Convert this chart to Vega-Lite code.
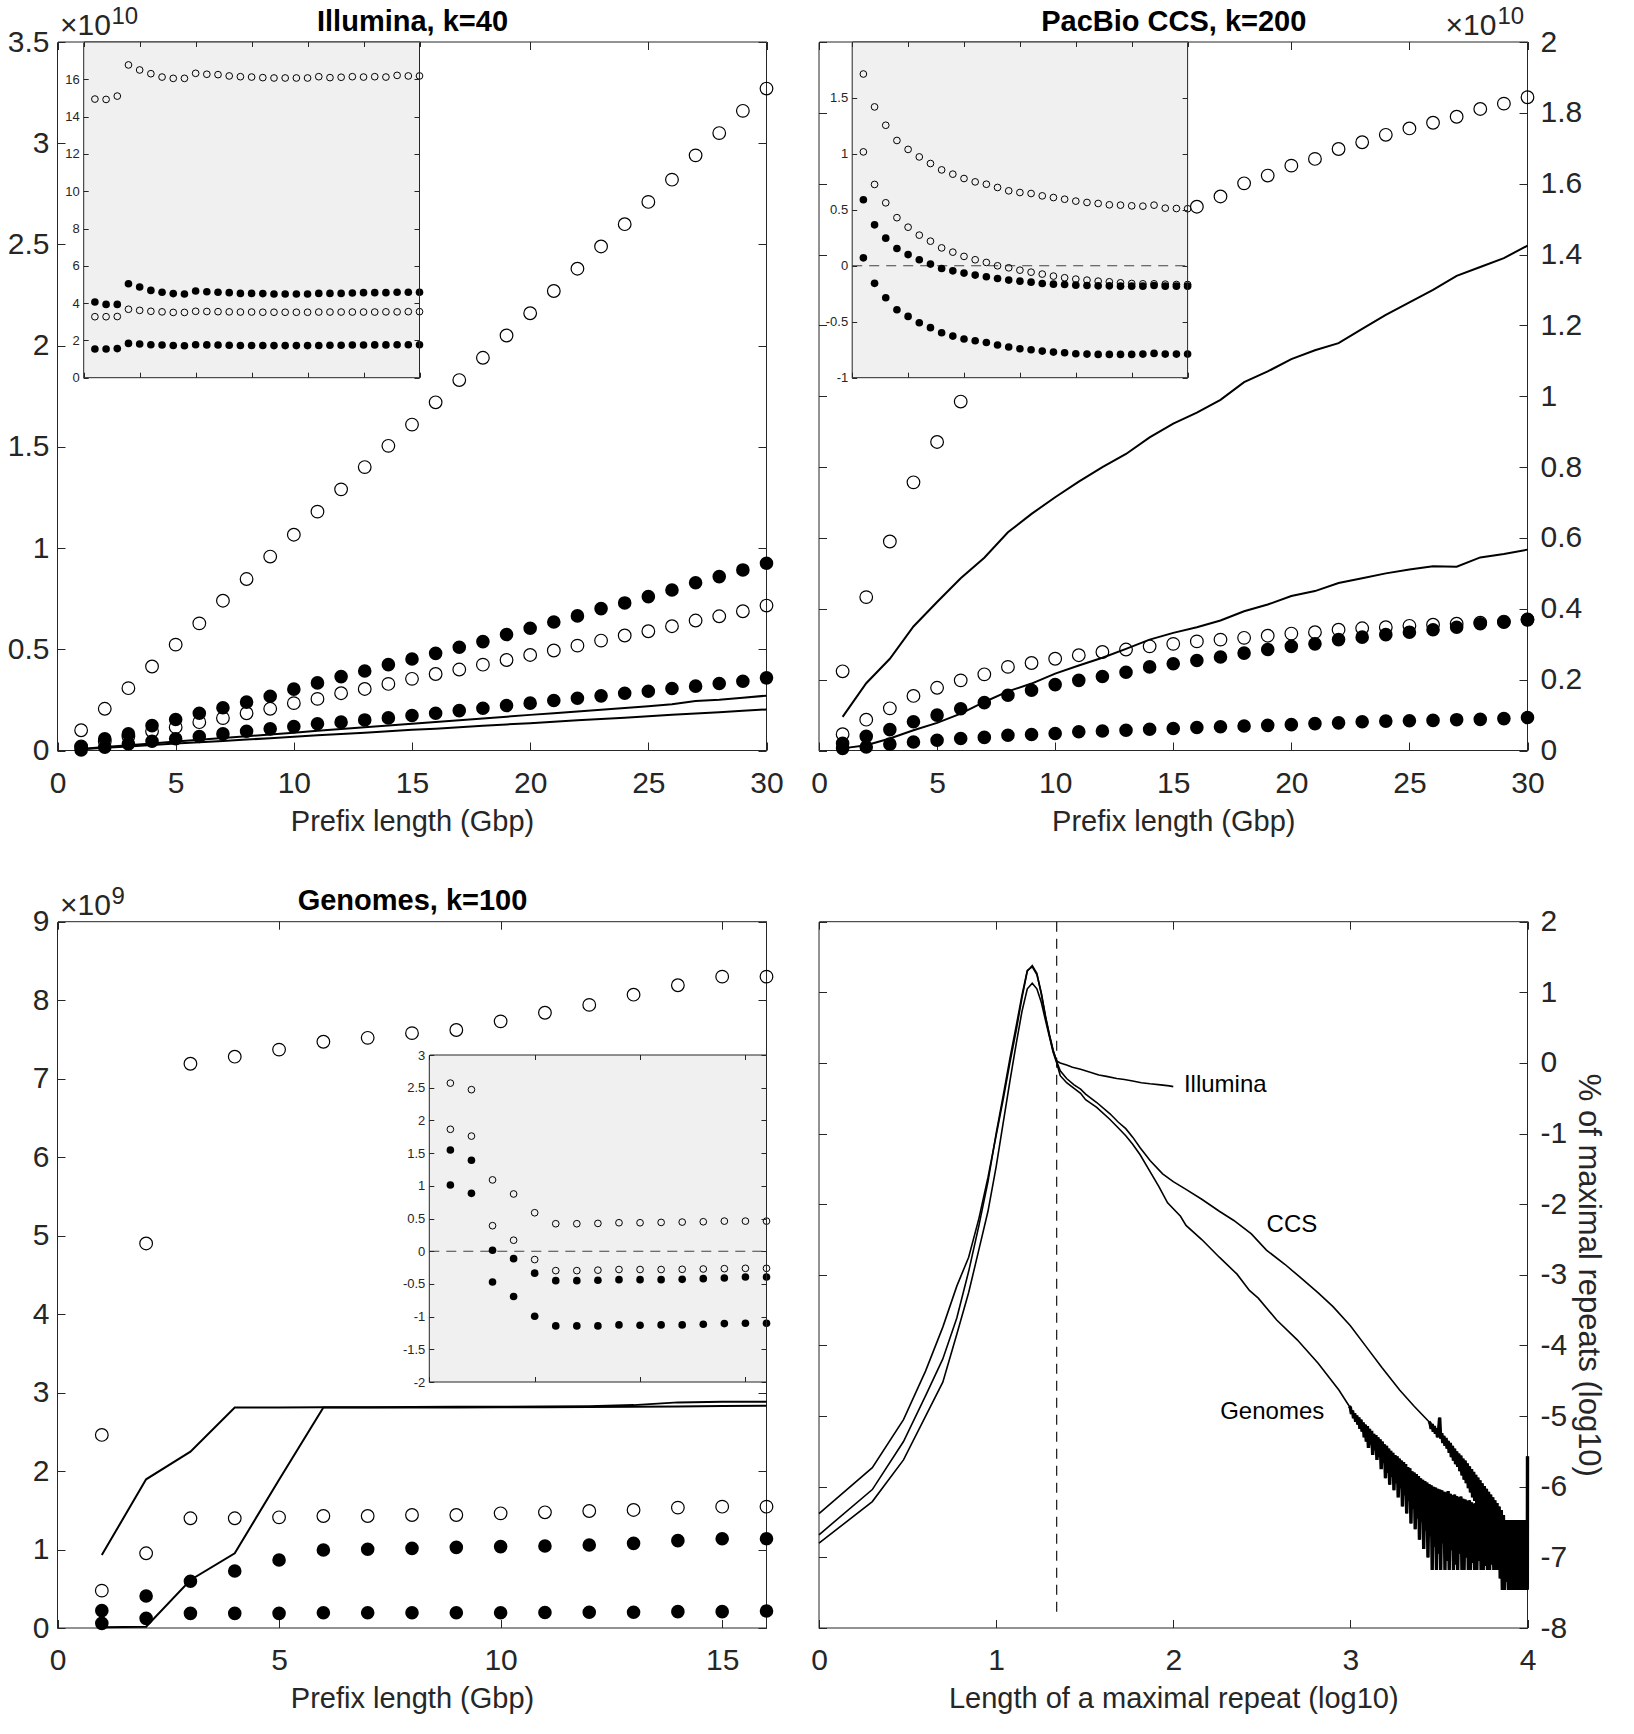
{
  "$schema": "https://vega.github.io/schema/vega-lite/v6.json",
  "width": 1634,
  "height": 1734,
  "autosize": {"type": "none"},
  "padding": 0,
  "background": "white",
  "config": {
    "view": {"stroke": null},
    "axis": {
      "grid": false, "domainColor": "#262626", "tickColor": "#262626", "labelColor": "#262626",
      "titleColor": "#262626", "labelFont": "Liberation Sans", "titleFont": "Liberation Sans",
      "labelFontSize": 30, "titleFontSize": 29, "titleFontWeight": "normal", "tickSize": -8,
      "domainWidth": 1, "tickWidth": 1, "labelFlush": false, "labelOverlap": false, "labelBound": false,
      "minExtent": 0, "maxExtent": 400
    },
    "text": {"font": "Liberation Sans"}
  },
  "datasets": {
    "p1_open": [
      {"s":"a","x":1,"y":0.10},{"s":"a","x":2,"y":0.206},{"s":"a","x":3,"y":0.308},{"s":"a","x":4,"y":0.415},{"s":"a","x":5,"y":0.523},{"s":"a","x":6,"y":0.628},{"s":"a","x":7,"y":0.74},{"s":"a","x":8,"y":0.847},{"s":"a","x":9,"y":0.958},{"s":"a","x":10,"y":1.066},
      {"s":"a","x":11,"y":1.18},{"s":"a","x":12,"y":1.29},{"s":"a","x":13,"y":1.40},{"s":"a","x":14,"y":1.505},{"s":"a","x":15,"y":1.61},{"s":"a","x":16,"y":1.72},{"s":"a","x":17,"y":1.83},{"s":"a","x":18,"y":1.94},{"s":"a","x":19,"y":2.05},{"s":"a","x":20,"y":2.16},
      {"s":"a","x":21,"y":2.27},{"s":"a","x":22,"y":2.38},{"s":"a","x":23,"y":2.49},{"s":"a","x":24,"y":2.60},{"s":"a","x":25,"y":2.71},{"s":"a","x":26,"y":2.82},{"s":"a","x":27,"y":2.94},{"s":"a","x":28,"y":3.05},{"s":"a","x":29,"y":3.16},{"s":"a","x":30,"y":3.27},
      {"s":"b","x":1,"y":0.02},{"s":"b","x":2,"y":0.045},{"s":"b","x":3,"y":0.07},{"s":"b","x":4,"y":0.095},{"s":"b","x":5,"y":0.115},{"s":"b","x":6,"y":0.14},{"s":"b","x":7,"y":0.16},{"s":"b","x":8,"y":0.184},{"s":"b","x":9,"y":0.206},{"s":"b","x":10,"y":0.234},
      {"s":"b","x":11,"y":0.255},{"s":"b","x":12,"y":0.283},{"s":"b","x":13,"y":0.304},{"s":"b","x":14,"y":0.329},{"s":"b","x":15,"y":0.354},{"s":"b","x":16,"y":0.378},{"s":"b","x":17,"y":0.40},{"s":"b","x":18,"y":0.424},{"s":"b","x":19,"y":0.447},{"s":"b","x":20,"y":0.472},
      {"s":"b","x":21,"y":0.494},{"s":"b","x":22,"y":0.518},{"s":"b","x":23,"y":0.543},{"s":"b","x":24,"y":0.568},{"s":"b","x":25,"y":0.589},{"s":"b","x":26,"y":0.614},{"s":"b","x":27,"y":0.642},{"s":"b","x":28,"y":0.663},{"s":"b","x":29,"y":0.688},{"s":"b","x":30,"y":0.716}
    ],
    "p1_filled": [
      {"s":"c","x":1,"y":0.016},{"s":"c","x":2,"y":0.058},{"s":"c","x":3,"y":0.082},{"s":"c","x":4,"y":0.123},{"s":"c","x":5,"y":0.153},{"s":"c","x":6,"y":0.184},{"s":"c","x":7,"y":0.211},{"s":"c","x":8,"y":0.239},{"s":"c","x":9,"y":0.268},{"s":"c","x":10,"y":0.303},
      {"s":"c","x":11,"y":0.334},{"s":"c","x":12,"y":0.365},{"s":"c","x":13,"y":0.393},{"s":"c","x":14,"y":0.424},{"s":"c","x":15,"y":0.452},{"s":"c","x":16,"y":0.48},{"s":"c","x":17,"y":0.51},{"s":"c","x":18,"y":0.538},{"s":"c","x":19,"y":0.573},{"s":"c","x":20,"y":0.604},
      {"s":"c","x":21,"y":0.635},{"s":"c","x":22,"y":0.665},{"s":"c","x":23,"y":0.701},{"s":"c","x":24,"y":0.729},{"s":"c","x":25,"y":0.76},{"s":"c","x":26,"y":0.793},{"s":"c","x":27,"y":0.829},{"s":"c","x":28,"y":0.859},{"s":"c","x":29,"y":0.892},{"s":"c","x":30,"y":0.925},
      {"s":"d","x":1,"y":0.003},{"s":"d","x":2,"y":0.016},{"s":"d","x":3,"y":0.033},{"s":"d","x":4,"y":0.046},{"s":"d","x":5,"y":0.058},{"s":"d","x":6,"y":0.069},{"s":"d","x":7,"y":0.082},{"s":"d","x":8,"y":0.095},{"s":"d","x":9,"y":0.107},{"s":"d","x":10,"y":0.118},
      {"s":"d","x":11,"y":0.132},{"s":"d","x":12,"y":0.14},{"s":"d","x":13,"y":0.151},{"s":"d","x":14,"y":0.161},{"s":"d","x":15,"y":0.173},{"s":"d","x":16,"y":0.184},{"s":"d","x":17,"y":0.197},{"s":"d","x":18,"y":0.209},{"s":"d","x":19,"y":0.222},{"s":"d","x":20,"y":0.234},
      {"s":"d","x":21,"y":0.247},{"s":"d","x":22,"y":0.258},{"s":"d","x":23,"y":0.27},{"s":"d","x":24,"y":0.283},{"s":"d","x":25,"y":0.293},{"s":"d","x":26,"y":0.306},{"s":"d","x":27,"y":0.318},{"s":"d","x":28,"y":0.331},{"s":"d","x":29,"y":0.342},{"s":"d","x":30,"y":0.359}
    ],
    "p1_lines": [
      {"s":"e","x":1,"y":0.008},{"s":"e","x":2,"y":0.017},{"s":"e","x":3,"y":0.026},{"s":"e","x":4,"y":0.035},{"s":"e","x":5,"y":0.044},{"s":"e","x":6,"y":0.053},{"s":"e","x":7,"y":0.062},{"s":"e","x":8,"y":0.07},{"s":"e","x":9,"y":0.079},{"s":"e","x":10,"y":0.088},
      {"s":"e","x":11,"y":0.097},{"s":"e","x":12,"y":0.106},{"s":"e","x":13,"y":0.115},{"s":"e","x":14,"y":0.124},{"s":"e","x":15,"y":0.132},{"s":"e","x":16,"y":0.141},{"s":"e","x":17,"y":0.15},{"s":"e","x":18,"y":0.158},{"s":"e","x":19,"y":0.167},{"s":"e","x":20,"y":0.176},
      {"s":"e","x":21,"y":0.184},{"s":"e","x":22,"y":0.193},{"s":"e","x":23,"y":0.201},{"s":"e","x":24,"y":0.21},{"s":"e","x":25,"y":0.218},{"s":"e","x":26,"y":0.228},{"s":"e","x":27,"y":0.245},{"s":"e","x":28,"y":0.251},{"s":"e","x":29,"y":0.26},{"s":"e","x":30,"y":0.271},
      {"s":"f","x":1,"y":0.006},{"s":"f","x":2,"y":0.013},{"s":"f","x":3,"y":0.02},{"s":"f","x":4,"y":0.027},{"s":"f","x":5,"y":0.034},{"s":"f","x":6,"y":0.041},{"s":"f","x":7,"y":0.047},{"s":"f","x":8,"y":0.054},{"s":"f","x":9,"y":0.061},{"s":"f","x":10,"y":0.068},
      {"s":"f","x":11,"y":0.075},{"s":"f","x":12,"y":0.081},{"s":"f","x":13,"y":0.088},{"s":"f","x":14,"y":0.095},{"s":"f","x":15,"y":0.102},{"s":"f","x":16,"y":0.108},{"s":"f","x":17,"y":0.115},{"s":"f","x":18,"y":0.122},{"s":"f","x":19,"y":0.129},{"s":"f","x":20,"y":0.135},
      {"s":"f","x":21,"y":0.142},{"s":"f","x":22,"y":0.149},{"s":"f","x":23,"y":0.156},{"s":"f","x":24,"y":0.162},{"s":"f","x":25,"y":0.169},{"s":"f","x":26,"y":0.176},{"s":"f","x":27,"y":0.183},{"s":"f","x":28,"y":0.189},{"s":"f","x":29,"y":0.196},{"s":"f","x":30,"y":0.203}
    ],
    "i1_open": [
      {"s":"a","x":1,"y":14.94},{"s":"a","x":2,"y":14.92},{"s":"a","x":3,"y":15.1},{"s":"a","x":4,"y":16.77},{"s":"a","x":5,"y":16.5},{"s":"a","x":6,"y":16.3},{"s":"a","x":7,"y":16.12},{"s":"a","x":8,"y":16.05},{"s":"a","x":9,"y":16.05},{"s":"a","x":10,"y":16.32},
      {"s":"a","x":11,"y":16.27},{"s":"a","x":12,"y":16.25},{"s":"a","x":13,"y":16.18},{"s":"a","x":14,"y":16.14},{"s":"a","x":15,"y":16.12},{"s":"a","x":16,"y":16.09},{"s":"a","x":17,"y":16.07},{"s":"a","x":18,"y":16.07},{"s":"a","x":19,"y":16.07},{"s":"a","x":20,"y":16.07},
      {"s":"a","x":21,"y":16.14},{"s":"a","x":22,"y":16.09},{"s":"a","x":23,"y":16.11},{"s":"a","x":24,"y":16.14},{"s":"a","x":25,"y":16.12},{"s":"a","x":26,"y":16.14},{"s":"a","x":27,"y":16.12},{"s":"a","x":28,"y":16.21},{"s":"a","x":29,"y":16.18},{"s":"a","x":30,"y":16.18},
      {"s":"b","x":1,"y":3.27},{"s":"b","x":2,"y":3.27},{"s":"b","x":3,"y":3.28},{"s":"b","x":4,"y":3.67},{"s":"b","x":5,"y":3.61},{"s":"b","x":6,"y":3.56},{"s":"b","x":7,"y":3.53},{"s":"b","x":8,"y":3.5},{"s":"b","x":9,"y":3.5},{"s":"b","x":10,"y":3.56},
      {"s":"b","x":11,"y":3.55},{"s":"b","x":12,"y":3.54},{"s":"b","x":13,"y":3.53},{"s":"b","x":14,"y":3.52},{"s":"b","x":15,"y":3.52},{"s":"b","x":16,"y":3.51},{"s":"b","x":17,"y":3.51},{"s":"b","x":18,"y":3.51},{"s":"b","x":19,"y":3.51},{"s":"b","x":20,"y":3.51},
      {"s":"b","x":21,"y":3.52},{"s":"b","x":22,"y":3.52},{"s":"b","x":23,"y":3.52},{"s":"b","x":24,"y":3.52},{"s":"b","x":25,"y":3.52},{"s":"b","x":26,"y":3.52},{"s":"b","x":27,"y":3.53},{"s":"b","x":28,"y":3.53},{"s":"b","x":29,"y":3.54},{"s":"b","x":30,"y":3.54}
    ],
    "i1_filled": [
      {"s":"c","x":1,"y":4.06},{"s":"c","x":2,"y":3.93},{"s":"c","x":3,"y":3.93},{"s":"c","x":4,"y":5.04},{"s":"c","x":5,"y":4.86},{"s":"c","x":6,"y":4.68},{"s":"c","x":7,"y":4.58},{"s":"c","x":8,"y":4.51},{"s":"c","x":9,"y":4.49},{"s":"c","x":10,"y":4.65},
      {"s":"c","x":11,"y":4.61},{"s":"c","x":12,"y":4.58},{"s":"c","x":13,"y":4.56},{"s":"c","x":14,"y":4.52},{"s":"c","x":15,"y":4.52},{"s":"c","x":16,"y":4.51},{"s":"c","x":17,"y":4.49},{"s":"c","x":18,"y":4.49},{"s":"c","x":19,"y":4.49},{"s":"c","x":20,"y":4.49},
      {"s":"c","x":21,"y":4.52},{"s":"c","x":22,"y":4.52},{"s":"c","x":23,"y":4.52},{"s":"c","x":24,"y":4.54},{"s":"c","x":25,"y":4.56},{"s":"c","x":26,"y":4.56},{"s":"c","x":27,"y":4.56},{"s":"c","x":28,"y":4.58},{"s":"c","x":29,"y":4.58},{"s":"c","x":30,"y":4.58},
      {"s":"d","x":1,"y":1.54},{"s":"d","x":2,"y":1.54},{"s":"d","x":3,"y":1.56},{"s":"d","x":4,"y":1.84},{"s":"d","x":5,"y":1.81},{"s":"d","x":6,"y":1.77},{"s":"d","x":7,"y":1.75},{"s":"d","x":8,"y":1.73},{"s":"d","x":9,"y":1.71},{"s":"d","x":10,"y":1.77},
      {"s":"d","x":11,"y":1.76},{"s":"d","x":12,"y":1.75},{"s":"d","x":13,"y":1.74},{"s":"d","x":14,"y":1.73},{"s":"d","x":15,"y":1.73},{"s":"d","x":16,"y":1.73},{"s":"d","x":17,"y":1.72},{"s":"d","x":18,"y":1.72},{"s":"d","x":19,"y":1.72},{"s":"d","x":20,"y":1.72},
      {"s":"d","x":21,"y":1.73},{"s":"d","x":22,"y":1.74},{"s":"d","x":23,"y":1.74},{"s":"d","x":24,"y":1.75},{"s":"d","x":25,"y":1.75},{"s":"d","x":26,"y":1.76},{"s":"d","x":27,"y":1.76},{"s":"d","x":28,"y":1.77},{"s":"d","x":29,"y":1.77},{"s":"d","x":30,"y":1.77}
    ],
    "p2_open": [
      {"s":"a","x":1,"y":0.2235},{"s":"a","x":2,"y":0.433},{"s":"a","x":3,"y":0.59},{"s":"a","x":4,"y":0.757},{"s":"a","x":5,"y":0.871},{"s":"a","x":6,"y":0.985},
      {"s":"a","x":16,"y":1.535},{"s":"a","x":17,"y":1.564},{"s":"a","x":18,"y":1.601},{"s":"a","x":19,"y":1.623},{"s":"a","x":20,"y":1.651},{"s":"a","x":21,"y":1.67},{"s":"a","x":22,"y":1.698},{"s":"a","x":23,"y":1.717},{"s":"a","x":24,"y":1.738},{"s":"a","x":25,"y":1.756},
      {"s":"a","x":26,"y":1.772},{"s":"a","x":27,"y":1.789},{"s":"a","x":28,"y":1.811},{"s":"a","x":29,"y":1.826},{"s":"a","x":30,"y":1.844},
      {"s":"b","x":1,"y":0.046},{"s":"b","x":2,"y":0.087},{"s":"b","x":3,"y":0.119},{"s":"b","x":4,"y":0.154},{"s":"b","x":5,"y":0.177},{"s":"b","x":6,"y":0.198},{"s":"b","x":7,"y":0.215},{"s":"b","x":8,"y":0.236},{"s":"b","x":9,"y":0.247},{"s":"b","x":10,"y":0.259},
      {"s":"b","x":11,"y":0.269},{"s":"b","x":12,"y":0.278},{"s":"b","x":13,"y":0.285},{"s":"b","x":14,"y":0.294},{"s":"b","x":15,"y":0.301},{"s":"b","x":16,"y":0.308},{"s":"b","x":17,"y":0.313},{"s":"b","x":18,"y":0.318},{"s":"b","x":19,"y":0.324},{"s":"b","x":20,"y":0.33},
      {"s":"b","x":21,"y":0.334},{"s":"b","x":22,"y":0.341},{"s":"b","x":23,"y":0.345},{"s":"b","x":24,"y":0.348},{"s":"b","x":25,"y":0.352},{"s":"b","x":26,"y":0.355},{"s":"b","x":27,"y":0.358},{"s":"b","x":28,"y":0.361},{"s":"b","x":29,"y":0.364},{"s":"b","x":30,"y":0.369}
    ],
    "p2_filled": [
      {"s":"c","x":1,"y":0.02},{"s":"c","x":2,"y":0.04},{"s":"c","x":3,"y":0.059},{"s":"c","x":4,"y":0.081},{"s":"c","x":5,"y":0.1},{"s":"c","x":6,"y":0.118},{"s":"c","x":7,"y":0.135},{"s":"c","x":8,"y":0.156},{"s":"c","x":9,"y":0.17},{"s":"c","x":10,"y":0.186},
      {"s":"c","x":11,"y":0.198},{"s":"c","x":12,"y":0.209},{"s":"c","x":13,"y":0.221},{"s":"c","x":14,"y":0.236},{"s":"c","x":15,"y":0.245},{"s":"c","x":16,"y":0.254},{"s":"c","x":17,"y":0.264},{"s":"c","x":18,"y":0.275},{"s":"c","x":19,"y":0.285},{"s":"c","x":20,"y":0.294},
      {"s":"c","x":21,"y":0.301},{"s":"c","x":22,"y":0.313},{"s":"c","x":23,"y":0.32},{"s":"c","x":24,"y":0.327},{"s":"c","x":25,"y":0.334},{"s":"c","x":26,"y":0.341},{"s":"c","x":27,"y":0.348},{"s":"c","x":28,"y":0.358},{"s":"c","x":29,"y":0.362},{"s":"c","x":30,"y":0.37},
      {"s":"d","x":1,"y":0.006},{"s":"d","x":2,"y":0.01},{"s":"d","x":3,"y":0.018},{"s":"d","x":4,"y":0.024},{"s":"d","x":5,"y":0.029},{"s":"d","x":6,"y":0.034},{"s":"d","x":7,"y":0.037},{"s":"d","x":8,"y":0.043},{"s":"d","x":9,"y":0.045},{"s":"d","x":10,"y":0.048},
      {"s":"d","x":11,"y":0.053},{"s":"d","x":12,"y":0.055},{"s":"d","x":13,"y":0.057},{"s":"d","x":14,"y":0.06},{"s":"d","x":15,"y":0.062},{"s":"d","x":16,"y":0.065},{"s":"d","x":17,"y":0.067},{"s":"d","x":18,"y":0.069},{"s":"d","x":19,"y":0.071},{"s":"d","x":20,"y":0.073},
      {"s":"d","x":21,"y":0.076},{"s":"d","x":22,"y":0.078},{"s":"d","x":23,"y":0.081},{"s":"d","x":24,"y":0.083},{"s":"d","x":25,"y":0.084},{"s":"d","x":26,"y":0.085},{"s":"d","x":27,"y":0.087},{"s":"d","x":28,"y":0.088},{"s":"d","x":29,"y":0.09},{"s":"d","x":30,"y":0.093}
    ],
    "p2_lines": [
      {"s":"e","x":1,"y":0.095},{"s":"e","x":2,"y":0.19},{"s":"e","x":3,"y":0.259},{"s":"e","x":4,"y":0.35},{"s":"e","x":5,"y":0.419},{"s":"e","x":6,"y":0.486},{"s":"e","x":7,"y":0.544},{"s":"e","x":8,"y":0.616},{"s":"e","x":9,"y":0.668},{"s":"e","x":10,"y":0.715},
      {"s":"e","x":11,"y":0.759},{"s":"e","x":12,"y":0.8},{"s":"e","x":13,"y":0.837},{"s":"e","x":14,"y":0.884},{"s":"e","x":15,"y":0.923},{"s":"e","x":16,"y":0.954},{"s":"e","x":17,"y":0.99},{"s":"e","x":18,"y":1.04},{"s":"e","x":19,"y":1.07},{"s":"e","x":20,"y":1.105},
      {"s":"e","x":21,"y":1.13},{"s":"e","x":22,"y":1.15},{"s":"e","x":23,"y":1.19},{"s":"e","x":24,"y":1.23},{"s":"e","x":25,"y":1.265},{"s":"e","x":26,"y":1.3},{"s":"e","x":27,"y":1.34},{"s":"e","x":28,"y":1.365},{"s":"e","x":29,"y":1.39},{"s":"e","x":30,"y":1.425},
      {"s":"f","x":1,"y":0.006},{"s":"f","x":2,"y":0.015},{"s":"f","x":3,"y":0.034},{"s":"f","x":4,"y":0.057},{"s":"f","x":5,"y":0.078},{"s":"f","x":6,"y":0.104},{"s":"f","x":7,"y":0.137},{"s":"f","x":8,"y":0.167},{"s":"f","x":9,"y":0.189},{"s":"f","x":10,"y":0.217},
      {"s":"f","x":11,"y":0.24},{"s":"f","x":12,"y":0.262},{"s":"f","x":13,"y":0.287},{"s":"f","x":14,"y":0.313},{"s":"f","x":15,"y":0.332},{"s":"f","x":16,"y":0.348},{"s":"f","x":17,"y":0.367},{"s":"f","x":18,"y":0.393},{"s":"f","x":19,"y":0.412},{"s":"f","x":20,"y":0.436},
      {"s":"f","x":21,"y":0.45},{"s":"f","x":22,"y":0.473},{"s":"f","x":23,"y":0.486},{"s":"f","x":24,"y":0.5},{"s":"f","x":25,"y":0.511},{"s":"f","x":26,"y":0.52},{"s":"f","x":27,"y":0.519},{"s":"f","x":28,"y":0.545},{"s":"f","x":29,"y":0.555},{"s":"f","x":30,"y":0.567}
    ],
    "i2_open": [
      {"s":"a","x":1,"y":1.714},{"s":"a","x":2,"y":1.42},{"s":"a","x":3,"y":1.256},{"s":"a","x":4,"y":1.12},{"s":"a","x":5,"y":1.04},{"s":"a","x":6,"y":0.973},{"s":"a","x":7,"y":0.914},{"s":"a","x":8,"y":0.857},{"s":"a","x":9,"y":0.819},{"s":"a","x":10,"y":0.78},
      {"s":"a","x":11,"y":0.75},{"s":"a","x":12,"y":0.729},{"s":"a","x":13,"y":0.7},{"s":"a","x":14,"y":0.67},{"s":"a","x":15,"y":0.655},{"s":"a","x":16,"y":0.646},{"s":"a","x":17,"y":0.625},{"s":"a","x":18,"y":0.61},{"s":"a","x":19,"y":0.595},{"s":"a","x":20,"y":0.578},
      {"s":"a","x":21,"y":0.566},{"s":"a","x":22,"y":0.557},{"s":"a","x":23,"y":0.545},{"s":"a","x":24,"y":0.542},{"s":"a","x":25,"y":0.536},{"s":"a","x":26,"y":0.533},{"s":"a","x":27,"y":0.542},{"s":"a","x":28,"y":0.515},{"s":"a","x":29,"y":0.512},{"s":"a","x":30,"y":0.51},
      {"s":"b","x":1,"y":1.018},{"s":"b","x":2,"y":0.727},{"s":"b","x":3,"y":0.563},{"s":"b","x":4,"y":0.43},{"s":"b","x":5,"y":0.345},{"s":"b","x":6,"y":0.274},{"s":"b","x":7,"y":0.22},{"s":"b","x":8,"y":0.16},{"s":"b","x":9,"y":0.122},{"s":"b","x":10,"y":0.084},
      {"s":"b","x":11,"y":0.054},{"s":"b","x":12,"y":0.03},{"s":"b","x":13,"y":0.0},{"s":"b","x":14,"y":-0.018},{"s":"b","x":15,"y":-0.039},{"s":"b","x":16,"y":-0.057},{"s":"b","x":17,"y":-0.074},{"s":"b","x":18,"y":-0.092},{"s":"b","x":19,"y":-0.107},{"s":"b","x":20,"y":-0.119},
      {"s":"b","x":21,"y":-0.128},{"s":"b","x":22,"y":-0.137},{"s":"b","x":23,"y":-0.143},{"s":"b","x":24,"y":-0.152},{"s":"b","x":25,"y":-0.158},{"s":"b","x":26,"y":-0.161},{"s":"b","x":27,"y":-0.161},{"s":"b","x":28,"y":-0.164},{"s":"b","x":29,"y":-0.167},{"s":"b","x":30,"y":-0.167}
    ],
    "i2_filled": [
      {"s":"c","x":1,"y":0.59},{"s":"c","x":2,"y":0.366},{"s":"c","x":3,"y":0.247},{"s":"c","x":4,"y":0.155},{"s":"c","x":5,"y":0.1},{"s":"c","x":6,"y":0.054},{"s":"c","x":7,"y":0.015},{"s":"c","x":8,"y":-0.024},{"s":"c","x":9,"y":-0.045},{"s":"c","x":10,"y":-0.065},
      {"s":"c","x":11,"y":-0.083},{"s":"c","x":12,"y":-0.098},{"s":"c","x":13,"y":-0.113},{"s":"c","x":14,"y":-0.128},{"s":"c","x":15,"y":-0.137},{"s":"c","x":16,"y":-0.146},{"s":"c","x":17,"y":-0.158},{"s":"c","x":18,"y":-0.164},{"s":"c","x":19,"y":-0.167},{"s":"c","x":20,"y":-0.173},
      {"s":"c","x":21,"y":-0.176},{"s":"c","x":22,"y":-0.179},{"s":"c","x":23,"y":-0.179},{"s":"c","x":24,"y":-0.182},{"s":"c","x":25,"y":-0.182},{"s":"c","x":26,"y":-0.182},{"s":"c","x":27,"y":-0.176},{"s":"c","x":28,"y":-0.182},{"s":"c","x":29,"y":-0.182},{"s":"c","x":30,"y":-0.182},
      {"s":"d","x":1,"y":0.071},{"s":"d","x":2,"y":-0.157},{"s":"d","x":3,"y":-0.286},{"s":"d","x":4,"y":-0.393},{"s":"d","x":5,"y":-0.452},{"s":"d","x":6,"y":-0.509},{"s":"d","x":7,"y":-0.553},{"s":"d","x":8,"y":-0.598},{"s":"d","x":9,"y":-0.628},{"s":"d","x":10,"y":-0.654},
      {"s":"d","x":11,"y":-0.67},{"s":"d","x":12,"y":-0.685},{"s":"d","x":13,"y":-0.708},{"s":"d","x":14,"y":-0.726},{"s":"d","x":15,"y":-0.741},{"s":"d","x":16,"y":-0.75},{"s":"d","x":17,"y":-0.762},{"s":"d","x":18,"y":-0.771},{"s":"d","x":19,"y":-0.777},{"s":"d","x":20,"y":-0.786},
      {"s":"d","x":21,"y":-0.789},{"s":"d","x":22,"y":-0.792},{"s":"d","x":23,"y":-0.792},{"s":"d","x":24,"y":-0.792},{"s":"d","x":25,"y":-0.792},{"s":"d","x":26,"y":-0.789},{"s":"d","x":27,"y":-0.783},{"s":"d","x":28,"y":-0.789},{"s":"d","x":29,"y":-0.789},{"s":"d","x":30,"y":-0.789}
    ],
    "p3_open": [
      {"s":"a","x":1,"y":2.46},{"s":"a","x":2,"y":4.9},{"s":"a","x":3,"y":7.19},{"s":"a","x":4,"y":7.28},{"s":"a","x":5,"y":7.37},{"s":"a","x":6,"y":7.47},{"s":"a","x":7,"y":7.52},{"s":"a","x":8,"y":7.58},
      {"s":"a","x":9,"y":7.62},{"s":"a","x":10,"y":7.73},{"s":"a","x":11,"y":7.84},{"s":"a","x":12,"y":7.94},{"s":"a","x":13,"y":8.07},{"s":"a","x":14,"y":8.19},{"s":"a","x":15,"y":8.3},{"s":"a","x":16,"y":8.3},
      {"s":"b","x":1,"y":0.476},{"s":"b","x":2,"y":0.952},{"s":"b","x":3,"y":1.398},{"s":"b","x":4,"y":1.398},{"s":"b","x":5,"y":1.41},{"s":"b","x":6,"y":1.427},{"s":"b","x":7,"y":1.427},{"s":"b","x":8,"y":1.44},
      {"s":"b","x":9,"y":1.44},{"s":"b","x":10,"y":1.461},{"s":"b","x":11,"y":1.474},{"s":"b","x":12,"y":1.491},{"s":"b","x":13,"y":1.504},{"s":"b","x":14,"y":1.534},{"s":"b","x":15,"y":1.546},{"s":"b","x":16,"y":1.546}
    ],
    "p3_filled": [
      {"s":"c","x":1,"y":0.221},{"s":"c","x":2,"y":0.408},{"s":"c","x":3,"y":0.595},{"s":"c","x":4,"y":0.726},{"s":"c","x":5,"y":0.867},{"s":"c","x":6,"y":0.994},{"s":"c","x":7,"y":1.003},{"s":"c","x":8,"y":1.015},
      {"s":"c","x":9,"y":1.028},{"s":"c","x":10,"y":1.037},{"s":"c","x":11,"y":1.045},{"s":"c","x":12,"y":1.058},{"s":"c","x":13,"y":1.079},{"s":"c","x":14,"y":1.113},{"s":"c","x":15,"y":1.138},{"s":"c","x":16,"y":1.138},
      {"s":"d","x":1,"y":0.059},{"s":"d","x":2,"y":0.123},{"s":"d","x":3,"y":0.187},{"s":"d","x":4,"y":0.187},{"s":"d","x":5,"y":0.187},{"s":"d","x":6,"y":0.195},{"s":"d","x":7,"y":0.195},{"s":"d","x":8,"y":0.195},
      {"s":"d","x":9,"y":0.195},{"s":"d","x":10,"y":0.195},{"s":"d","x":11,"y":0.197},{"s":"d","x":12,"y":0.2},{"s":"d","x":13,"y":0.2},{"s":"d","x":14,"y":0.208},{"s":"d","x":15,"y":0.208},{"s":"d","x":16,"y":0.217}
    ],
    "p3_lines": [
      {"s":"e","x":1,"y":0.93},{"s":"e","x":2,"y":1.895},{"s":"e","x":3,"y":2.247},{"s":"e","x":4,"y":2.81},{"s":"e","x":5,"y":2.81},{"s":"e","x":6,"y":2.812},{"s":"e","x":7,"y":2.814},{"s":"e","x":8,"y":2.816},
      {"s":"e","x":9,"y":2.818},{"s":"e","x":10,"y":2.82},{"s":"e","x":11,"y":2.822},{"s":"e","x":12,"y":2.826},{"s":"e","x":13,"y":2.84},{"s":"e","x":14,"y":2.875},{"s":"e","x":15,"y":2.884},{"s":"e","x":16,"y":2.884},
      {"s":"f","x":1,"y":0.008},{"s":"f","x":2,"y":0.017},{"s":"f","x":3,"y":0.612},{"s":"f","x":4,"y":0.952},{"s":"f","x":5,"y":1.89},{"s":"f","x":6,"y":2.81},{"s":"f","x":7,"y":2.81},{"s":"f","x":8,"y":2.81},
      {"s":"f","x":9,"y":2.811},{"s":"f","x":10,"y":2.812},{"s":"f","x":11,"y":2.814},{"s":"f","x":12,"y":2.816},{"s":"f","x":13,"y":2.82},{"s":"f","x":14,"y":2.824},{"s":"f","x":15,"y":2.828},{"s":"f","x":16,"y":2.832}
    ],
    "i3_open": [
      {"s":"a","x":1,"y":2.57},{"s":"a","x":2,"y":2.47},{"s":"a","x":3,"y":1.09},{"s":"a","x":4,"y":0.875},{"s":"a","x":5,"y":0.588},{"s":"a","x":6,"y":0.42},{"s":"a","x":7,"y":0.42},{"s":"a","x":8,"y":0.425},
      {"s":"a","x":9,"y":0.435},{"s":"a","x":10,"y":0.435},{"s":"a","x":11,"y":0.44},{"s":"a","x":12,"y":0.445},{"s":"a","x":13,"y":0.45},{"s":"a","x":14,"y":0.46},{"s":"a","x":15,"y":0.46},{"s":"a","x":16,"y":0.46},
      {"s":"b","x":1,"y":1.864},{"s":"b","x":2,"y":1.76},{"s":"b","x":3,"y":0.39},{"s":"b","x":4,"y":0.168},{"s":"b","x":5,"y":-0.128},{"s":"b","x":6,"y":-0.297},{"s":"b","x":7,"y":-0.297},{"s":"b","x":8,"y":-0.29},
      {"s":"b","x":9,"y":-0.28},{"s":"b","x":10,"y":-0.28},{"s":"b","x":11,"y":-0.28},{"s":"b","x":12,"y":-0.277},{"s":"b","x":13,"y":-0.272},{"s":"b","x":14,"y":-0.267},{"s":"b","x":15,"y":-0.262},{"s":"b","x":16,"y":-0.262}
    ],
    "i3_filled": [
      {"s":"c","x":1,"y":1.547},{"s":"c","x":2,"y":1.39},{"s":"c","x":3,"y":0.015},{"s":"c","x":4,"y":-0.114},{"s":"c","x":5,"y":-0.336},{"s":"c","x":6,"y":-0.45},{"s":"c","x":7,"y":-0.45},{"s":"c","x":8,"y":-0.445},
      {"s":"c","x":9,"y":-0.435},{"s":"c","x":10,"y":-0.435},{"s":"c","x":11,"y":-0.435},{"s":"c","x":12,"y":-0.43},{"s":"c","x":13,"y":-0.42},{"s":"c","x":14,"y":-0.41},{"s":"c","x":15,"y":-0.395},{"s":"c","x":16,"y":-0.395},
      {"s":"d","x":1,"y":1.013},{"s":"d","x":2,"y":0.885},{"s":"d","x":3,"y":-0.47},{"s":"d","x":4,"y":-0.692},{"s":"d","x":5,"y":-0.994},{"s":"d","x":6,"y":-1.142},{"s":"d","x":7,"y":-1.142},{"s":"d","x":8,"y":-1.142},
      {"s":"d","x":9,"y":-1.127},{"s":"d","x":10,"y":-1.132},{"s":"d","x":11,"y":-1.127},{"s":"d","x":12,"y":-1.127},{"s":"d","x":13,"y":-1.117},{"s":"d","x":14,"y":-1.107},{"s":"d","x":15,"y":-1.102},{"s":"d","x":16,"y":-1.102}
    ],
    "p4_lines": [
      {"s":"Illumina","x":0,"y":-6.38},{"s":"Illumina","x":0.301,"y":-5.73},{"s":"Illumina","x":0.477,"y":-5.05},{"s":"Illumina","x":0.602,"y":-4.36},{"s":"Illumina","x":0.699,"y":-3.74},{"s":"Illumina","x":0.778,"y":-3.16},{"s":"Illumina","x":0.845,"y":-2.75},{"s":"Illumina","x":0.903,"y":-2.2},
      {"s":"Illumina","x":0.954,"y":-1.62},{"s":"Illumina","x":1.0,"y":-1.03},{"s":"Illumina","x":1.041,"y":-0.5},{"s":"Illumina","x":1.079,"y":0.02},{"s":"Illumina","x":1.114,"y":0.47},{"s":"Illumina","x":1.146,"y":0.92},{"s":"Illumina","x":1.176,"y":1.3},{"s":"Illumina","x":1.204,"y":1.38},
      {"s":"Illumina","x":1.23,"y":1.27},{"s":"Illumina","x":1.255,"y":0.98},{"s":"Illumina","x":1.279,"y":0.65},{"s":"Illumina","x":1.301,"y":0.39},{"s":"Illumina","x":1.322,"y":0.17},{"s":"Illumina","x":1.342,"y":0.03},{"s":"Illumina","x":1.362,"y":0.0},{"s":"Illumina","x":1.398,"y":-0.03},
      {"s":"Illumina","x":1.431,"y":-0.06},{"s":"Illumina","x":1.477,"y":-0.09},{"s":"Illumina","x":1.531,"y":-0.13},{"s":"Illumina","x":1.58,"y":-0.17},{"s":"Illumina","x":1.623,"y":-0.19},{"s":"Illumina","x":1.681,"y":-0.22},{"s":"Illumina","x":1.724,"y":-0.235},{"s":"Illumina","x":1.771,"y":-0.256},
      {"s":"Illumina","x":1.82,"y":-0.28},{"s":"Illumina","x":1.869,"y":-0.295},{"s":"Illumina","x":1.929,"y":-0.31},{"s":"Illumina","x":1.978,"y":-0.325},{"s":"Illumina","x":2.0,"y":-0.335},
      {"s":"CCS","x":0,"y":-6.68},{"s":"CCS","x":0.301,"y":-6.04},{"s":"CCS","x":0.477,"y":-5.36},{"s":"CCS","x":0.602,"y":-4.71},{"s":"CCS","x":0.699,"y":-4.19},{"s":"CCS","x":0.778,"y":-3.61},{"s":"CCS","x":0.845,"y":-2.95},{"s":"CCS","x":0.903,"y":-2.3},
      {"s":"CCS","x":0.954,"y":-1.68},{"s":"CCS","x":1.0,"y":-1.0},{"s":"CCS","x":1.041,"y":-0.45},{"s":"CCS","x":1.079,"y":0.08},{"s":"CCS","x":1.114,"y":0.53},{"s":"CCS","x":1.146,"y":0.96},{"s":"CCS","x":1.176,"y":1.31},{"s":"CCS","x":1.204,"y":1.36},
      {"s":"CCS","x":1.23,"y":1.25},{"s":"CCS","x":1.255,"y":0.99},{"s":"CCS","x":1.279,"y":0.66},{"s":"CCS","x":1.301,"y":0.4},{"s":"CCS","x":1.322,"y":0.18},{"s":"CCS","x":1.342,"y":0.02},{"s":"CCS","x":1.362,"y":-0.11},{"s":"CCS","x":1.398,"y":-0.22},
      {"s":"CCS","x":1.44,"y":-0.31},{"s":"CCS","x":1.477,"y":-0.37},{"s":"CCS","x":1.505,"y":-0.44},{"s":"CCS","x":1.568,"y":-0.56},{"s":"CCS","x":1.643,"y":-0.72},{"s":"CCS","x":1.69,"y":-0.84},{"s":"CCS","x":1.732,"y":-0.93},{"s":"CCS","x":1.771,"y":-1.05},
      {"s":"CCS","x":1.813,"y":-1.2},{"s":"CCS","x":1.869,"y":-1.38},{"s":"CCS","x":1.94,"y":-1.57},{"s":"CCS","x":2.0,"y":-1.68},{"s":"CCS","x":2.072,"y":-1.79},{"s":"CCS","x":2.161,"y":-1.93},{"s":"CCS","x":2.26,"y":-2.1},{"s":"CCS","x":2.342,"y":-2.23},
      {"s":"CCS","x":2.441,"y":-2.42},{"s":"CCS","x":2.526,"y":-2.65},{"s":"CCS","x":2.63,"y":-2.85},{"s":"CCS","x":2.714,"y":-3.03},{"s":"CCS","x":2.82,"y":-3.26},{"s":"CCS","x":2.902,"y":-3.45},{"s":"CCS","x":3.0,"y":-3.72},{"s":"CCS","x":3.09,"y":-4.02},
      {"s":"CCS","x":3.18,"y":-4.32},{"s":"CCS","x":3.278,"y":-4.63},{"s":"CCS","x":3.36,"y":-4.86},{"s":"CCS","x":3.444,"y":-5.08},
      {"s":"CCS","x":3.45,"y":-5.1},{"s":"CCS","x":3.456,"y":-5.18},{"s":"CCS","x":3.462,"y":-5.11},{"s":"CCS","x":3.468,"y":-5.22},{"s":"CCS","x":3.474,"y":-5.14},{"s":"CCS","x":3.48,"y":-5.25},{"s":"CCS","x":3.486,"y":-5.17},{"s":"CCS","x":3.492,"y":-5.3},
      {"s":"CCS","x":3.498,"y":-5.2},{"s":"CCS","x":3.504,"y":-5.02},{"s":"CCS","x":3.51,"y":-5.32},{"s":"CCS","x":3.516,"y":-5.24},{"s":"CCS","x":3.522,"y":-5.38},{"s":"CCS","x":3.528,"y":-5.28},{"s":"CCS","x":3.534,"y":-5.42},{"s":"CCS","x":3.54,"y":-5.31},
      {"s":"CCS","x":3.546,"y":-5.46},{"s":"CCS","x":3.552,"y":-5.35},{"s":"CCS","x":3.558,"y":-5.52},{"s":"CCS","x":3.564,"y":-5.38},{"s":"CCS","x":3.57,"y":-5.58},{"s":"CCS","x":3.576,"y":-5.42},{"s":"CCS","x":3.582,"y":-5.63},{"s":"CCS","x":3.588,"y":-5.46},
      {"s":"CCS","x":3.594,"y":-5.68},{"s":"CCS","x":3.6,"y":-5.5},{"s":"CCS","x":3.606,"y":-5.72},{"s":"CCS","x":3.612,"y":-5.53},{"s":"CCS","x":3.618,"y":-5.78},{"s":"CCS","x":3.624,"y":-5.56},{"s":"CCS","x":3.63,"y":-5.84},{"s":"CCS","x":3.636,"y":-5.6},
      {"s":"CCS","x":3.642,"y":-5.9},{"s":"CCS","x":3.648,"y":-5.63},{"s":"CCS","x":3.654,"y":-5.95},{"s":"CCS","x":3.66,"y":-5.67},{"s":"CCS","x":3.666,"y":-6.02},{"s":"CCS","x":3.672,"y":-5.71},{"s":"CCS","x":3.678,"y":-6.08},{"s":"CCS","x":3.684,"y":-5.75},
      {"s":"CCS","x":3.69,"y":-6.15},{"s":"CCS","x":3.696,"y":-5.79},{"s":"CCS","x":3.702,"y":-6.2},{"s":"CCS","x":3.708,"y":-5.83},{"s":"CCS","x":3.714,"y":-6.26},{"s":"CCS","x":3.72,"y":-5.87},{"s":"CCS","x":3.726,"y":-6.32},{"s":"CCS","x":3.732,"y":-5.91},
      {"s":"CCS","x":3.738,"y":-6.38},{"s":"CCS","x":3.744,"y":-5.95},{"s":"CCS","x":3.75,"y":-6.45},{"s":"CCS","x":3.756,"y":-5.99},{"s":"CCS","x":3.762,"y":-6.52},{"s":"CCS","x":3.768,"y":-6.03},{"s":"CCS","x":3.774,"y":-6.6},{"s":"CCS","x":3.78,"y":-6.07},
      {"s":"CCS","x":3.786,"y":-6.68},{"s":"CCS","x":3.792,"y":-6.11},{"s":"CCS","x":3.798,"y":-6.76},{"s":"CCS","x":3.804,"y":-6.15},{"s":"CCS","x":3.81,"y":-6.85},{"s":"CCS","x":3.816,"y":-6.19},{"s":"CCS","x":3.822,"y":-6.94},{"s":"CCS","x":3.828,"y":-6.23},
      {"s":"CCS","x":3.834,"y":-7.05},{"s":"CCS","x":3.84,"y":-6.28},{"s":"CCS","x":3.846,"y":-7.18},{"s":"CCS","x":3.852,"y":-6.33},{"s":"CCS","x":3.858,"y":-7.18},{"s":"CCS","x":3.864,"y":-6.4},{"s":"CCS","x":3.87,"y":-7.46},{"s":"CCS","x":3.876,"y":-6.47},
      {"s":"CCS","x":3.882,"y":-7.18},{"s":"CCS","x":3.888,"y":-6.47},{"s":"CCS","x":3.894,"y":-7.46},{"s":"CCS","x":3.9,"y":-6.47},{"s":"CCS","x":3.906,"y":-7.18},{"s":"CCS","x":3.912,"y":-6.47},{"s":"CCS","x":3.918,"y":-7.46},{"s":"CCS","x":3.924,"y":-6.47},
      {"s":"CCS","x":3.93,"y":-7.46},{"s":"CCS","x":3.936,"y":-6.47},{"s":"CCS","x":3.942,"y":-7.18},{"s":"CCS","x":3.948,"y":-6.47},{"s":"CCS","x":3.954,"y":-7.46},{"s":"CCS","x":3.96,"y":-6.47},{"s":"CCS","x":3.966,"y":-7.46},{"s":"CCS","x":3.972,"y":-6.47},
      {"s":"CCS","x":3.978,"y":-7.18},{"s":"CCS","x":3.984,"y":-6.47},{"s":"CCS","x":3.99,"y":-7.46},{"s":"CCS","x":3.996,"y":-6.47},
      {"s":"Genomes","x":0,"y":-6.8},{"s":"Genomes","x":0.301,"y":-6.21},{"s":"Genomes","x":0.477,"y":-5.62},{"s":"Genomes","x":0.602,"y":-5.0},{"s":"Genomes","x":0.699,"y":-4.52},{"s":"Genomes","x":0.778,"y":-3.84},{"s":"Genomes","x":0.845,"y":-3.25},{"s":"Genomes","x":0.903,"y":-2.64},
      {"s":"Genomes","x":0.954,"y":-2.1},{"s":"Genomes","x":1.0,"y":-1.47},{"s":"Genomes","x":1.041,"y":-0.83},{"s":"Genomes","x":1.079,"y":-0.24},{"s":"Genomes","x":1.114,"y":0.28},{"s":"Genomes","x":1.146,"y":0.73},{"s":"Genomes","x":1.176,"y":1.05},{"s":"Genomes","x":1.204,"y":1.13},
      {"s":"Genomes","x":1.23,"y":1.05},{"s":"Genomes","x":1.255,"y":0.86},{"s":"Genomes","x":1.279,"y":0.6},{"s":"Genomes","x":1.301,"y":0.37},{"s":"Genomes","x":1.322,"y":0.15},{"s":"Genomes","x":1.342,"y":0.0},{"s":"Genomes","x":1.362,"y":-0.18},{"s":"Genomes","x":1.398,"y":-0.28},
      {"s":"Genomes","x":1.44,"y":-0.36},{"s":"Genomes","x":1.477,"y":-0.43},{"s":"Genomes","x":1.505,"y":-0.52},{"s":"Genomes","x":1.568,"y":-0.63},{"s":"Genomes","x":1.643,"y":-0.8},{"s":"Genomes","x":1.69,"y":-0.92},{"s":"Genomes","x":1.732,"y":-1.03},{"s":"Genomes","x":1.771,"y":-1.15},
      {"s":"Genomes","x":1.813,"y":-1.3},{"s":"Genomes","x":1.86,"y":-1.5},{"s":"Genomes","x":1.919,"y":-1.75},{"s":"Genomes","x":1.968,"y":-1.98},{"s":"Genomes","x":2.041,"y":-2.17},{"s":"Genomes","x":2.072,"y":-2.3},{"s":"Genomes","x":2.161,"y":-2.5},{"s":"Genomes","x":2.26,"y":-2.75},
      {"s":"Genomes","x":2.36,"y":-2.99},{"s":"Genomes","x":2.43,"y":-3.22},{"s":"Genomes","x":2.48,"y":-3.33},{"s":"Genomes","x":2.584,"y":-3.64},{"s":"Genomes","x":2.7,"y":-3.92},{"s":"Genomes","x":2.818,"y":-4.25},{"s":"Genomes","x":2.935,"y":-4.63},{"s":"Genomes","x":2.994,"y":-4.86},
      {"s":"Genomes","x":3.0,"y":-4.88},{"s":"Genomes","x":3.006,"y":-4.97},{"s":"Genomes","x":3.012,"y":-4.92},{"s":"Genomes","x":3.018,"y":-5.03},{"s":"Genomes","x":3.024,"y":-4.96},{"s":"Genomes","x":3.03,"y":-5.08},{"s":"Genomes","x":3.036,"y":-4.99},{"s":"Genomes","x":3.042,"y":-5.12},
      {"s":"Genomes","x":3.048,"y":-5.02},{"s":"Genomes","x":3.054,"y":-5.18},{"s":"Genomes","x":3.06,"y":-5.05},{"s":"Genomes","x":3.066,"y":-5.22},{"s":"Genomes","x":3.072,"y":-5.09},{"s":"Genomes","x":3.078,"y":-5.3},{"s":"Genomes","x":3.084,"y":-5.12},{"s":"Genomes","x":3.09,"y":-5.36},
      {"s":"Genomes","x":3.096,"y":-5.14},{"s":"Genomes","x":3.102,"y":-5.45},{"s":"Genomes","x":3.108,"y":-5.18},{"s":"Genomes","x":3.114,"y":-5.4},{"s":"Genomes","x":3.12,"y":-5.21},{"s":"Genomes","x":3.126,"y":-5.55},{"s":"Genomes","x":3.132,"y":-5.25},{"s":"Genomes","x":3.138,"y":-5.48},
      {"s":"Genomes","x":3.144,"y":-5.27},{"s":"Genomes","x":3.15,"y":-5.62},{"s":"Genomes","x":3.156,"y":-5.3},{"s":"Genomes","x":3.162,"y":-5.58},{"s":"Genomes","x":3.168,"y":-5.33},{"s":"Genomes","x":3.174,"y":-5.75},{"s":"Genomes","x":3.18,"y":-5.36},{"s":"Genomes","x":3.186,"y":-5.66},
      {"s":"Genomes","x":3.192,"y":-5.4},{"s":"Genomes","x":3.198,"y":-5.88},{"s":"Genomes","x":3.204,"y":-5.42},{"s":"Genomes","x":3.21,"y":-5.8},{"s":"Genomes","x":3.216,"y":-5.46},{"s":"Genomes","x":3.222,"y":-5.97},{"s":"Genomes","x":3.228,"y":-5.49},{"s":"Genomes","x":3.234,"y":-5.86},
      {"s":"Genomes","x":3.24,"y":-5.52},{"s":"Genomes","x":3.246,"y":-6.05},{"s":"Genomes","x":3.252,"y":-5.55},{"s":"Genomes","x":3.258,"y":-5.95},{"s":"Genomes","x":3.264,"y":-5.57},{"s":"Genomes","x":3.27,"y":-6.15},{"s":"Genomes","x":3.276,"y":-5.6},{"s":"Genomes","x":3.282,"y":-6.02},
      {"s":"Genomes","x":3.288,"y":-5.63},{"s":"Genomes","x":3.294,"y":-6.28},{"s":"Genomes","x":3.3,"y":-5.65},{"s":"Genomes","x":3.306,"y":-6.12},{"s":"Genomes","x":3.312,"y":-5.68},{"s":"Genomes","x":3.318,"y":-6.38},{"s":"Genomes","x":3.324,"y":-5.72},{"s":"Genomes","x":3.33,"y":-6.2},
      {"s":"Genomes","x":3.336,"y":-5.74},{"s":"Genomes","x":3.342,"y":-6.52},{"s":"Genomes","x":3.348,"y":-5.78},{"s":"Genomes","x":3.354,"y":-6.31},{"s":"Genomes","x":3.36,"y":-5.8},{"s":"Genomes","x":3.366,"y":-6.6},{"s":"Genomes","x":3.372,"y":-5.82},{"s":"Genomes","x":3.378,"y":-6.45},
      {"s":"Genomes","x":3.384,"y":-5.85},{"s":"Genomes","x":3.39,"y":-6.75},{"s":"Genomes","x":3.396,"y":-5.88},{"s":"Genomes","x":3.402,"y":-6.5},{"s":"Genomes","x":3.408,"y":-5.9},{"s":"Genomes","x":3.414,"y":-6.88},{"s":"Genomes","x":3.42,"y":-5.92},{"s":"Genomes","x":3.426,"y":-6.62},
      {"s":"Genomes","x":3.432,"y":-5.94},{"s":"Genomes","x":3.438,"y":-7.0},{"s":"Genomes","x":3.444,"y":-5.96},{"s":"Genomes","x":3.45,"y":-6.7},{"s":"Genomes","x":3.456,"y":-5.98},{"s":"Genomes","x":3.462,"y":-7.18},{"s":"Genomes","x":3.468,"y":-6.0},{"s":"Genomes","x":3.474,"y":-6.85},
      {"s":"Genomes","x":3.48,"y":-6.01},{"s":"Genomes","x":3.486,"y":-7.18},{"s":"Genomes","x":3.492,"y":-6.03},{"s":"Genomes","x":3.498,"y":-6.95},{"s":"Genomes","x":3.504,"y":-6.04},{"s":"Genomes","x":3.51,"y":-7.18},{"s":"Genomes","x":3.516,"y":-6.05},{"s":"Genomes","x":3.522,"y":-6.8},
      {"s":"Genomes","x":3.528,"y":-6.07},{"s":"Genomes","x":3.534,"y":-7.18},{"s":"Genomes","x":3.54,"y":-6.08},{"s":"Genomes","x":3.546,"y":-7.05},{"s":"Genomes","x":3.552,"y":-6.06},{"s":"Genomes","x":3.558,"y":-7.18},{"s":"Genomes","x":3.564,"y":-6.1},{"s":"Genomes","x":3.57,"y":-6.9},
      {"s":"Genomes","x":3.576,"y":-6.12},{"s":"Genomes","x":3.582,"y":-7.18},{"s":"Genomes","x":3.588,"y":-6.11},{"s":"Genomes","x":3.594,"y":-7.1},{"s":"Genomes","x":3.6,"y":-6.13},{"s":"Genomes","x":3.606,"y":-7.18},{"s":"Genomes","x":3.612,"y":-6.15},{"s":"Genomes","x":3.618,"y":-6.95},
      {"s":"Genomes","x":3.624,"y":-6.14},{"s":"Genomes","x":3.63,"y":-7.18},{"s":"Genomes","x":3.636,"y":-6.17},{"s":"Genomes","x":3.642,"y":-7.18},{"s":"Genomes","x":3.648,"y":-6.18},{"s":"Genomes","x":3.654,"y":-7.0},{"s":"Genomes","x":3.66,"y":-6.2},{"s":"Genomes","x":3.666,"y":-7.18},
      {"s":"Genomes","x":3.672,"y":-6.19},{"s":"Genomes","x":3.678,"y":-7.18},{"s":"Genomes","x":3.684,"y":-6.22},{"s":"Genomes","x":3.69,"y":-7.08},{"s":"Genomes","x":3.696,"y":-6.24},{"s":"Genomes","x":3.702,"y":-7.18},{"s":"Genomes","x":3.708,"y":-6.23},{"s":"Genomes","x":3.714,"y":-7.18},
      {"s":"Genomes","x":3.72,"y":-6.26},{"s":"Genomes","x":3.726,"y":-7.05},{"s":"Genomes","x":3.732,"y":-6.28},{"s":"Genomes","x":3.738,"y":-7.18},{"s":"Genomes","x":3.744,"y":-6.27},{"s":"Genomes","x":3.75,"y":-7.18},{"s":"Genomes","x":3.756,"y":-6.3},{"s":"Genomes","x":3.762,"y":-7.12},
      {"s":"Genomes","x":3.768,"y":-6.32},{"s":"Genomes","x":3.774,"y":-7.18},{"s":"Genomes","x":3.78,"y":-6.34},{"s":"Genomes","x":3.786,"y":-7.18},{"s":"Genomes","x":3.792,"y":-6.36},{"s":"Genomes","x":3.798,"y":-7.1},{"s":"Genomes","x":3.804,"y":-6.38},{"s":"Genomes","x":3.81,"y":-7.18},
      {"s":"Genomes","x":3.816,"y":-6.4},{"s":"Genomes","x":3.822,"y":-7.18},{"s":"Genomes","x":3.828,"y":-6.42},{"s":"Genomes","x":3.834,"y":-7.18},{"s":"Genomes","x":3.84,"y":-6.44},{"s":"Genomes","x":3.846,"y":-7.3},{"s":"Genomes","x":3.852,"y":-6.46},{"s":"Genomes","x":3.858,"y":-7.46},
      {"s":"Genomes","x":3.864,"y":-6.47},{"s":"Genomes","x":3.87,"y":-7.46},{"s":"Genomes","x":3.876,"y":-6.47},{"s":"Genomes","x":3.882,"y":-7.35},{"s":"Genomes","x":3.888,"y":-6.47},{"s":"Genomes","x":3.894,"y":-7.46},{"s":"Genomes","x":3.9,"y":-6.47},{"s":"Genomes","x":3.906,"y":-7.46},
      {"s":"Genomes","x":3.912,"y":-6.47},{"s":"Genomes","x":3.918,"y":-7.4},{"s":"Genomes","x":3.924,"y":-6.47},{"s":"Genomes","x":3.93,"y":-7.46},{"s":"Genomes","x":3.936,"y":-6.47},{"s":"Genomes","x":3.942,"y":-7.46},{"s":"Genomes","x":3.948,"y":-6.47},{"s":"Genomes","x":3.954,"y":-7.46},
      {"s":"Genomes","x":3.96,"y":-6.47},{"s":"Genomes","x":3.966,"y":-7.46},{"s":"Genomes","x":3.972,"y":-6.47},{"s":"Genomes","x":3.978,"y":-7.46},{"s":"Genomes","x":3.984,"y":-6.47},{"s":"Genomes","x":3.99,"y":-7.46},{"s":"Genomes","x":3.996,"y":-6.47},{"s":"Genomes","x":3.999,"y":-7.46},
      {"s":"Genomes","x":4.0,"y":-5.57}
    ],
    "p4_labels": [
      {"name":"Illumina","x":2.06,"y":-0.305},
      {"name":"CCS","x":2.527,"y":-2.29},
      {"name":"Genomes","x":2.265,"y":-4.94}
    ]
  },
  "resolve": {"scale": {"x": "independent", "y": "independent"}},
  "layer": [
    {
      "data": {"name": "p1_open"},
      "mark": {"type": "point", "shape": "circle", "filled": false, "size": 160, "strokeWidth": 1.2, "color": "black", "opacity": 1},
      "encoding": {
        "x": {"field": "x", "type": "quantitative", "scale": {"domain": [0, 30], "range": [57.5, 766.5], "nice": false, "zero": false},
              "axis": {"orient": "bottom", "offset": -984, "values": [0,5,10,15,20,25,30], "labelPadding": 26, "title": "Prefix length (Gbp)", "titlePadding": 9, "zindex": 0}},
        "y": {"field": "y", "type": "quantitative", "scale": {"domain": [0, 3.5], "range": [750.5, 42], "nice": false, "zero": false},
              "axis": {"orient": "left", "offset": -57, "values": [0,0.5,1,1.5,2,2.5,3,3.5], "format": "~g", "labelPadding": 16, "title": null, "zindex": 0}}
      }
    },
    {
      "data": {"name": "p1_filled"},
      "mark": {"type": "point", "shape": "circle", "filled": true, "size": 185, "color": "black", "opacity": 1},
      "encoding": {
        "x": {"field": "x", "type": "quantitative", "scale": {"domain": [0, 30], "range": [57.5, 766.5], "nice": false, "zero": false},
              "axis": {"orient": "top", "offset": -41.5, "values": [0,5,10,15,20,25,30], "labels": false, "title": "Illumina, k=40", "titleFontWeight": "bold", "titleColor": "black", "titlePadding": 5, "zindex": 0}},
        "y": {"field": "y", "type": "quantitative", "scale": {"domain": [0, 3.5], "range": [750.5, 42], "nice": false, "zero": false},
              "axis": {"orient": "right", "offset": -868, "values": [0,0.5,1,1.5,2,2.5,3,3.5], "labels": false, "title": null, "zindex": 0}}
      }
    },
    {
      "data": {"name": "p1_lines"},
      "mark": {"type": "line", "color": "black", "strokeWidth": 2},
      "encoding": {
        "x": {"field": "x", "type": "quantitative", "scale": {"domain": [0, 30], "range": [57.5, 766.5], "nice": false, "zero": false}, "axis": null},
        "y": {"field": "y", "type": "quantitative", "scale": {"domain": [0, 3.5], "range": [750.5, 42], "nice": false, "zero": false}, "axis": null},
        "detail": {"field": "s"}
      }
    },
    {
      "data": {"values": [{}]},
      "mark": {"type": "text", "text": "×10", "align": "left", "baseline": "alphabetic", "fontSize": 30, "dx": 2.5, "dy": -7, "color": "#262626"},
      "encoding": {
        "x": {"datum": 0, "type": "quantitative", "scale": {"domain": [0, 30], "range": [57.5, 766.5], "nice": false, "zero": false}, "axis": null},
        "y": {"datum": 3.5, "type": "quantitative", "scale": {"domain": [0, 3.5], "range": [750.5, 42], "nice": false, "zero": false}, "axis": null}
      }
    },
    {
      "data": {"values": [{}]},
      "mark": {"type": "text", "text": "10", "align": "left", "baseline": "alphabetic", "fontSize": 24, "dx": 54, "dy": -18, "color": "#262626"},
      "encoding": {
        "x": {"datum": 0, "type": "quantitative", "scale": {"domain": [0, 30], "range": [57.5, 766.5], "nice": false, "zero": false}, "axis": null},
        "y": {"datum": 3.5, "type": "quantitative", "scale": {"domain": [0, 3.5], "range": [750.5, 42], "nice": false, "zero": false}, "axis": null}
      }
    },
    {
      "data": {"name": "p2_open"},
      "mark": {"type": "point", "shape": "circle", "filled": false, "size": 160, "strokeWidth": 1.2, "color": "black", "opacity": 1},
      "encoding": {
        "x": {"field": "x", "type": "quantitative", "scale": {"domain": [0, 30], "range": [819, 1527.5], "nice": false, "zero": false},
              "axis": {"orient": "bottom", "offset": -984, "values": [0,5,10,15,20,25,30], "labelPadding": 26, "title": "Prefix length (Gbp)", "titlePadding": 9, "zindex": 0}},
        "y": {"field": "y", "type": "quantitative", "scale": {"domain": [0, 2], "range": [750.5, 42], "nice": false, "zero": false},
              "axis": {"orient": "right", "offset": -107, "values": [0,0.2,0.4,0.6,0.8,1,1.2,1.4,1.6,1.8,2], "format": "~g", "labelPadding": 21, "title": null, "zindex": 0}}
      }
    },
    {
      "data": {"name": "p2_filled"},
      "mark": {"type": "point", "shape": "circle", "filled": true, "size": 185, "color": "black", "opacity": 1},
      "encoding": {
        "x": {"field": "x", "type": "quantitative", "scale": {"domain": [0, 30], "range": [819, 1527.5], "nice": false, "zero": false},
              "axis": {"orient": "top", "offset": -41.5, "values": [0,5,10,15,20,25,30], "labels": false, "title": "PacBio CCS, k=200", "titleFontWeight": "bold", "titleColor": "black", "titlePadding": 5, "zindex": 0}},
        "y": {"field": "y", "type": "quantitative", "scale": {"domain": [0, 2], "range": [750.5, 42], "nice": false, "zero": false},
              "axis": {"orient": "left", "offset": -818.5, "values": [0,0.2,0.4,0.6,0.8,1,1.2,1.4,1.6,1.8,2], "labels": false, "title": null, "zindex": 0}}
      }
    },
    {
      "data": {"name": "p2_lines"},
      "mark": {"type": "line", "color": "black", "strokeWidth": 2},
      "encoding": {
        "x": {"field": "x", "type": "quantitative", "scale": {"domain": [0, 30], "range": [819, 1527.5], "nice": false, "zero": false}, "axis": null},
        "y": {"field": "y", "type": "quantitative", "scale": {"domain": [0, 2], "range": [750.5, 42], "nice": false, "zero": false}, "axis": null},
        "detail": {"field": "s"}
      }
    },
    {
      "data": {"values": [{}]},
      "mark": {"type": "text", "text": "×10", "align": "left", "baseline": "alphabetic", "fontSize": 30, "dx": -82, "dy": -7, "color": "#262626"},
      "encoding": {
        "x": {"datum": 30, "type": "quantitative", "scale": {"domain": [0, 30], "range": [819, 1527.5], "nice": false, "zero": false}, "axis": null},
        "y": {"datum": 2, "type": "quantitative", "scale": {"domain": [0, 2], "range": [750.5, 42], "nice": false, "zero": false}, "axis": null}
      }
    },
    {
      "data": {"values": [{}]},
      "mark": {"type": "text", "text": "10", "align": "left", "baseline": "alphabetic", "fontSize": 24, "dx": -30, "dy": -18, "color": "#262626"},
      "encoding": {
        "x": {"datum": 30, "type": "quantitative", "scale": {"domain": [0, 30], "range": [819, 1527.5], "nice": false, "zero": false}, "axis": null},
        "y": {"datum": 2, "type": "quantitative", "scale": {"domain": [0, 2], "range": [750.5, 42], "nice": false, "zero": false}, "axis": null}
      }
    },
    {
      "data": {"name": "p3_open"},
      "mark": {"type": "point", "shape": "circle", "filled": false, "size": 160, "strokeWidth": 1.2, "color": "black", "opacity": 1},
      "encoding": {
        "x": {"field": "x", "type": "quantitative", "scale": {"domain": [0, 16], "range": [57.5, 766.5], "nice": false, "zero": false},
              "axis": {"orient": "bottom", "offset": -106.5, "values": [0,5,10,15], "labelPadding": 26, "title": "Prefix length (Gbp)", "titlePadding": 9, "zindex": 0}},
        "y": {"field": "y", "type": "quantitative", "scale": {"domain": [0, 9], "range": [1628, 921.7], "nice": false, "zero": false},
              "axis": {"orient": "left", "offset": -57, "values": [0,1,2,3,4,5,6,7,8,9], "format": "~g", "labelPadding": 16, "title": null, "zindex": 0}}
      }
    },
    {
      "data": {"name": "p3_filled"},
      "mark": {"type": "point", "shape": "circle", "filled": true, "size": 185, "color": "black", "opacity": 1},
      "encoding": {
        "x": {"field": "x", "type": "quantitative", "scale": {"domain": [0, 16], "range": [57.5, 766.5], "nice": false, "zero": false},
              "axis": {"orient": "top", "offset": -921.2, "values": [0,5,10,15], "labels": false, "title": "Genomes, k=100", "titleFontWeight": "bold", "titleColor": "black", "titlePadding": 5, "zindex": 0}},
        "y": {"field": "y", "type": "quantitative", "scale": {"domain": [0, 9], "range": [1628, 921.7], "nice": false, "zero": false},
              "axis": {"orient": "right", "offset": -868, "values": [0,1,2,3,4,5,6,7,8,9], "labels": false, "title": null, "zindex": 0}}
      }
    },
    {
      "data": {"name": "p3_lines"},
      "mark": {"type": "line", "color": "black", "strokeWidth": 2},
      "encoding": {
        "x": {"field": "x", "type": "quantitative", "scale": {"domain": [0, 16], "range": [57.5, 766.5], "nice": false, "zero": false}, "axis": null},
        "y": {"field": "y", "type": "quantitative", "scale": {"domain": [0, 9], "range": [1628, 921.7], "nice": false, "zero": false}, "axis": null},
        "detail": {"field": "s"}
      }
    },
    {
      "data": {"values": [{}]},
      "mark": {"type": "text", "text": "×10", "align": "left", "baseline": "alphabetic", "fontSize": 30, "dx": 2.5, "dy": -7, "color": "#262626"},
      "encoding": {
        "x": {"datum": 0, "type": "quantitative", "scale": {"domain": [0, 16], "range": [57.5, 766.5], "nice": false, "zero": false}, "axis": null},
        "y": {"datum": 9, "type": "quantitative", "scale": {"domain": [0, 9], "range": [1628, 921.7], "nice": false, "zero": false}, "axis": null}
      }
    },
    {
      "data": {"values": [{}]},
      "mark": {"type": "text", "text": "9", "align": "left", "baseline": "alphabetic", "fontSize": 24, "dx": 54, "dy": -18, "color": "#262626"},
      "encoding": {
        "x": {"datum": 0, "type": "quantitative", "scale": {"domain": [0, 16], "range": [57.5, 766.5], "nice": false, "zero": false}, "axis": null},
        "y": {"datum": 9, "type": "quantitative", "scale": {"domain": [0, 9], "range": [1628, 921.7], "nice": false, "zero": false}, "axis": null}
      }
    },
    {
      "data": {"name": "p4_lines"},
      "mark": {"type": "line", "color": "black", "strokeWidth": 1.6},
      "encoding": {
        "x": {"field": "x", "type": "quantitative", "scale": {"domain": [0, 4], "range": [819, 1527.5], "nice": false, "zero": false},
              "axis": {"orient": "bottom", "offset": -106.5, "values": [0,1,2,3,4], "labelPadding": 26, "title": "Length of a maximal repeat (log10)", "titlePadding": 9, "zindex": 0}},
        "y": {"field": "y", "type": "quantitative", "scale": {"domain": [-8, 2], "range": [1628, 921.7], "nice": false, "zero": false},
              "axis": {"orient": "right", "offset": -107, "values": [-8,-7,-6,-5,-4,-3,-2,-1,0,1,2], "format": "~g", "labelExpr": "replace(datum.label, '\u2212', '-')", "labelPadding": 21, "title": "% of maximal repeats (log10)", "titleFontSize": 31, "titlePadding": 5, "zindex": 0}},
        "detail": {"field": "s"}
      }
    },
    {
      "data": {"name": "p4_lines"},
      "transform": [{"filter": "(datum.s === 'Genomes' && datum.x >= 2.994) || (datum.s === 'CCS' && datum.x >= 3.444)"}],
      "mark": {"type": "line", "color": "black", "strokeWidth": 3.4, "strokeJoin": "bevel"},
      "encoding": {
        "x": {"field": "x", "type": "quantitative", "scale": {"domain": [0, 4], "range": [819, 1527.5], "nice": false, "zero": false}, "axis": null},
        "y": {"field": "y", "type": "quantitative", "scale": {"domain": [-8, 2], "range": [1628, 921.7], "nice": false, "zero": false}, "axis": null},
        "detail": {"field": "s"}
      }
    },
    {
      "data": {"values": [{}]},
      "mark": {"type": "rule", "color": "black", "strokeWidth": 1.1, "strokeDash": [10, 7]},
      "encoding": {
        "x": {"datum": 1.342, "type": "quantitative", "scale": {"domain": [0, 4], "range": [819, 1527.5], "nice": false, "zero": false},
              "axis": {"orient": "top", "offset": -921.2, "values": [0,1,2,3,4], "labels": false, "title": null, "zindex": 0}},
        "y": {"datum": 2, "type": "quantitative", "scale": {"domain": [-8, 2], "range": [1628, 921.7], "nice": false, "zero": false},
              "axis": {"orient": "left", "offset": -818.5, "values": [-8,-7,-6,-5,-4,-3,-2,-1,0,1,2], "labels": false, "title": null, "zindex": 0}},
        "y2": {"datum": -7.85}
      }
    },
    {
      "data": {"name": "p4_labels"},
      "mark": {"type": "text", "align": "left", "baseline": "middle", "fontSize": 24, "color": "black"},
      "encoding": {
        "x": {"field": "x", "type": "quantitative", "scale": {"domain": [0, 4], "range": [819, 1527.5], "nice": false, "zero": false}, "axis": null},
        "y": {"field": "y", "type": "quantitative", "scale": {"domain": [-8, 2], "range": [1628, 921.7], "nice": false, "zero": false}, "axis": null},
        "text": {"field": "name"}
      }
    },
    {
      "data": {"values": [{}]},
      "mark": {"type": "rect", "color": "#f0f0f0", "opacity": 1},
      "encoding": {
        "x": {"datum": 0, "type": "quantitative", "scale": {"domain": [0, 30], "range": [83.7, 419.5], "nice": false, "zero": false},
              "axis": {"orient": "bottom", "offset": -1356.8, "values": [0,5,10,15,20,25,30], "labels": false, "tickSize": -5, "title": null, "zindex": 1}},
        "x2": {"datum": 30},
        "y": {"datum": 0, "type": "quantitative", "scale": {"domain": [0, 18], "range": [377.7, 42], "nice": false, "zero": false},
              "axis": {"orient": "left", "offset": -83.2, "values": [0,2,4,6,8,10,12,14,16], "format": "~g", "labelFontSize": 13, "tickSize": -5, "labelPadding": 9, "title": null, "zindex": 1}},
        "y2": {"datum": 18}
      }
    },
    {
      "data": {"name": "i1_open"},
      "mark": {"type": "point", "shape": "circle", "filled": false, "size": 45, "strokeWidth": 1, "color": "black", "opacity": 1},
      "encoding": {
        "x": {"field": "x", "type": "quantitative", "scale": {"domain": [0, 30], "range": [83.7, 419.5], "nice": false, "zero": false},
              "axis": {"orient": "top", "offset": -41.5, "values": [0,5,10,15,20,25,30], "labels": false, "tickSize": -5, "title": null, "zindex": 1}},
        "y": {"field": "y", "type": "quantitative", "scale": {"domain": [0, 18], "range": [377.7, 42], "nice": false, "zero": false},
              "axis": {"orient": "right", "offset": -1215, "values": [0,2,4,6,8,10,12,14,16], "labels": false, "tickSize": -5, "title": null, "zindex": 1}}
      }
    },
    {
      "data": {"name": "i1_filled"},
      "mark": {"type": "point", "shape": "circle", "filled": true, "size": 58, "color": "black", "opacity": 1},
      "encoding": {
        "x": {"field": "x", "type": "quantitative", "scale": {"domain": [0, 30], "range": [83.7, 419.5], "nice": false, "zero": false}, "axis": null},
        "y": {"field": "y", "type": "quantitative", "scale": {"domain": [0, 18], "range": [377.7, 42], "nice": false, "zero": false}, "axis": null}
      }
    },
    {
      "data": {"values": [{}]},
      "mark": {"type": "rect", "color": "#f0f0f0", "opacity": 1},
      "encoding": {
        "x": {"datum": 0, "type": "quantitative", "scale": {"domain": [0, 30], "range": [852.2, 1187.6], "nice": false, "zero": false},
              "axis": {"orient": "bottom", "offset": -1356.8, "values": [0,5,10,15,20,25,30], "labels": false, "tickSize": -5, "title": null, "zindex": 1}},
        "x2": {"datum": 30},
        "y": {"datum": -1, "type": "quantitative", "scale": {"domain": [-1, 2], "range": [377.7, 42], "nice": false, "zero": false},
              "axis": {"orient": "left", "offset": -851.7, "values": [-1,-0.5,0,0.5,1,1.5], "format": "~g", "labelExpr": "replace(datum.label, '\u2212', '-')", "labelFontSize": 13, "tickSize": -5, "labelPadding": 9, "title": null, "zindex": 1}},
        "y2": {"datum": 2}
      }
    },
    {
      "data": {"values": [{}]},
      "mark": {"type": "rule", "color": "#404040", "strokeWidth": 1.1, "strokeDash": [10, 7]},
      "encoding": {
        "x": {"datum": 0, "type": "quantitative", "scale": {"domain": [0, 30], "range": [852.2, 1187.6], "nice": false, "zero": false}, "axis": null},
        "x2": {"datum": 30},
        "y": {"datum": 0, "type": "quantitative", "scale": {"domain": [-1, 2], "range": [377.7, 42], "nice": false, "zero": false}, "axis": null}
      }
    },
    {
      "data": {"name": "i2_open"},
      "mark": {"type": "point", "shape": "circle", "filled": false, "size": 45, "strokeWidth": 1, "color": "black", "opacity": 1},
      "encoding": {
        "x": {"field": "x", "type": "quantitative", "scale": {"domain": [0, 30], "range": [852.2, 1187.6], "nice": false, "zero": false},
              "axis": {"orient": "top", "offset": -41.5, "values": [0,5,10,15,20,25,30], "labels": false, "tickSize": -5, "title": null, "zindex": 1}},
        "y": {"field": "y", "type": "quantitative", "scale": {"domain": [-1, 2], "range": [377.7, 42], "nice": false, "zero": false},
              "axis": {"orient": "right", "offset": -446.9, "values": [-1,-0.5,0,0.5,1,1.5], "labels": false, "tickSize": -5, "title": null, "zindex": 1}}
      }
    },
    {
      "data": {"name": "i2_filled"},
      "mark": {"type": "point", "shape": "circle", "filled": true, "size": 58, "color": "black", "opacity": 1},
      "encoding": {
        "x": {"field": "x", "type": "quantitative", "scale": {"domain": [0, 30], "range": [852.2, 1187.6], "nice": false, "zero": false}, "axis": null},
        "y": {"field": "y", "type": "quantitative", "scale": {"domain": [-1, 2], "range": [377.7, 42], "nice": false, "zero": false}, "axis": null}
      }
    },
    {
      "data": {"values": [{}]},
      "mark": {"type": "rect", "color": "#f0f0f0", "opacity": 1},
      "encoding": {
        "x": {"datum": 0, "type": "quantitative", "scale": {"domain": [0, 16], "range": [429.3, 766.5], "nice": false, "zero": false},
              "axis": {"orient": "bottom", "offset": -352.5, "values": [0,5,10,15], "labels": false, "tickSize": -5, "title": null, "zindex": 1}},
        "x2": {"datum": 16},
        "y": {"datum": -2, "type": "quantitative", "scale": {"domain": [-2, 3], "range": [1382, 1055], "nice": false, "zero": false},
              "axis": {"orient": "left", "offset": -428.8, "values": [-2,-1.5,-1,-0.5,0,0.5,1,1.5,2,2.5,3], "format": "~g", "labelExpr": "replace(datum.label, '\u2212', '-')", "labelFontSize": 13, "tickSize": -5, "labelPadding": 9, "title": null, "zindex": 1}},
        "y2": {"datum": 3}
      }
    },
    {
      "data": {"values": [{}]},
      "mark": {"type": "rule", "color": "#404040", "strokeWidth": 1.1, "strokeDash": [10, 7]},
      "encoding": {
        "x": {"datum": 0, "type": "quantitative", "scale": {"domain": [0, 16], "range": [429.3, 766.5], "nice": false, "zero": false}, "axis": null},
        "x2": {"datum": 16},
        "y": {"datum": 0, "type": "quantitative", "scale": {"domain": [-2, 3], "range": [1382, 1055], "nice": false, "zero": false}, "axis": null}
      }
    },
    {
      "data": {"name": "i3_open"},
      "mark": {"type": "point", "shape": "circle", "filled": false, "size": 45, "strokeWidth": 1, "color": "black", "opacity": 1},
      "encoding": {
        "x": {"field": "x", "type": "quantitative", "scale": {"domain": [0, 16], "range": [429.3, 766.5], "nice": false, "zero": false},
              "axis": {"orient": "top", "offset": -1054.5, "values": [0,5,10,15], "labels": false, "tickSize": -5, "title": null, "zindex": 1}},
        "y": {"field": "y", "type": "quantitative", "scale": {"domain": [-2, 3], "range": [1382, 1055], "nice": false, "zero": false},
              "axis": {"orient": "right", "offset": -868, "values": [-2,-1.5,-1,-0.5,0,0.5,1,1.5,2,2.5,3], "labels": false, "tickSize": -5, "title": null, "zindex": 1}}
      }
    },
    {
      "data": {"name": "i3_filled"},
      "mark": {"type": "point", "shape": "circle", "filled": true, "size": 58, "color": "black", "opacity": 1},
      "encoding": {
        "x": {"field": "x", "type": "quantitative", "scale": {"domain": [0, 16], "range": [429.3, 766.5], "nice": false, "zero": false}, "axis": null},
        "y": {"field": "y", "type": "quantitative", "scale": {"domain": [-2, 3], "range": [1382, 1055], "nice": false, "zero": false}, "axis": null}
      }
    }
  ]
}
